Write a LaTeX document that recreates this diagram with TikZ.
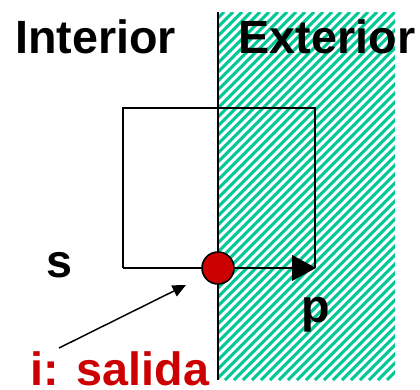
\documentclass[tikz,border=0pt]{standalone}
\usepackage{fontspec}
\setmainfont{Liberation Sans}
\usetikzlibrary{arrows.meta}
\definecolor{hatchgreen}{RGB}{0,200,150}
\definecolor{salidared}{RGB}{204,0,0}
\tikzset{
  bigtext/.style={inner sep=0pt,anchor=base,font=\fontsize{35}{40}\selectfont\bfseries},
  hatchline/.style={draw=hatchgreen,line width=2.2pt},
}
\begin{document}
\begin{tikzpicture}[x=0.75pt,y=0.75pt,yscale=-1,xscale=1]
        \useasboundingbox (0,0) rectangle (420,389);
        % hatched exterior
        \begin{scope}
          \clip (218,12) rectangle (395,380);
          \foreach \hx in {-153,-144,...,400}
            \draw [hatchline] (\hx,380) -- ({\hx+368},12);
        \end{scope}
        \draw [line width=2.2pt] (218,12) -- (218,380);
        % box
        \draw [line width=1.6pt] (123,268) -- (123,108) -- (315,108) -- (315,268);
        \draw [line width=2.2pt] (123,268) -- (218,268);
        \node (i) [circle,draw=black,line width=1.2pt,fill=salidared,minimum size=24pt,inner sep=0pt] at (218,268) {};
        \coordinate (pend) at (316,268);
        \draw [line width=2.2pt,-{Triangle[length=18pt,width=19pt]}] (i) -- (pend);
        \node (interior) [bigtext] at (95.5,53) {Interior};
        \node (exterior) [bigtext] at (327,53) {Exterior};
        \node (s) [bigtext] at (59,277) {s};
        \node (p) [bigtext] at (316,322) {p};
        \node (salida) [bigtext,text=salidared] at (120,385) {i: salida};
        \coordinate (itip) at (186,285);
        \draw [line width=1.1pt,-{Triangle[length=10pt,width=9pt]}] (59,348) -- (itip);
    \end{tikzpicture}
\end{document}
